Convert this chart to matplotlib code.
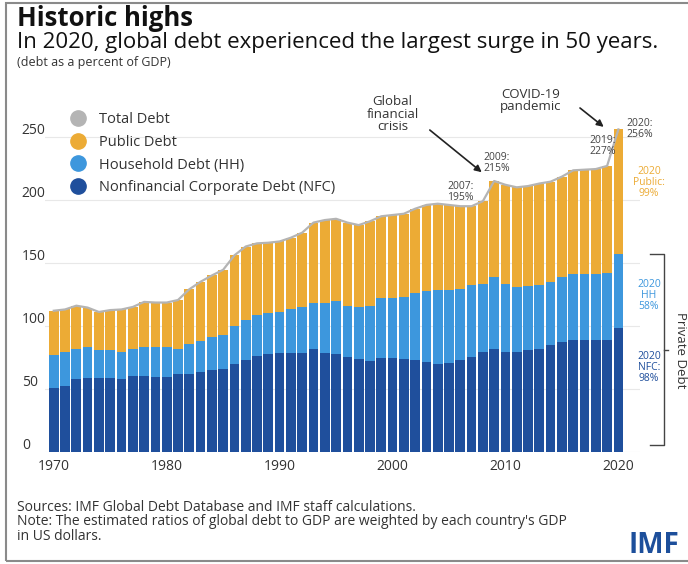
import numpy as np
import matplotlib.pyplot as plt
import matplotlib.transforms as mtransforms
from matplotlib.lines import Line2D
from matplotlib.patches import Rectangle

# === Global debt by component, percent of GDP ===
years = list(range(1970, 2021))
nfc = [50.5, 52, 58, 58.5, 58.5, 58.5, 58, 60, 60, 59.5,
       59.5, 61.5, 62, 63.5, 65, 66, 69.5, 72.5, 76, 77.5,
       78.5, 78.5, 78.5, 81.5, 78.5, 77.5, 75, 73.5, 72, 74.5,
       74.5, 73.5, 72.5, 71, 70, 70.5, 73, 75, 79, 81.5,
       79, 79, 80.5, 82, 84.5, 87.5, 89, 88.5, 88.5, 88.5,
       98.4]
household = [26, 27, 23.5, 24.5, 22, 22, 21.5, 21.5, 23.5, 23.5,
             23.5, 20, 23.5, 24.5, 26, 27, 30.5, 32, 32.5, 33,
             32.5, 34.5, 36.5, 37, 40, 42, 41, 41.5, 44, 47.5,
             47.5, 49.5, 53.5, 57, 58.5, 58, 56.5, 57.5, 54, 57,
             54.5, 52, 51, 50.5, 50.5, 51, 52, 53, 53, 53.5,
             58.3]
public = [35.5, 34, 34.5, 31.5, 30.5, 32, 33.5, 33.5, 35.5, 35.5,
          35.5, 39, 43.5, 47, 49, 51.5, 56, 58.5, 57, 55.5,
          56, 57, 59, 63.5, 65.5, 65.5, 66, 65, 67, 65,
          66, 66, 67, 68, 68.5, 67.5, 65.5, 62.5, 66, 76.5,
          78.5, 79, 79.5, 80.5, 79.5, 80, 82.5, 82.5, 83, 85,
          99.3]

callout_years = [2007, 2009, 2019]
tick_years = [1970, 1980, 1990, 2000, 2010, 2020]

c_nfc = "#1f4f9c"
c_hh = "#3d97dd"
c_pub = "#ecab35"
c_total = "#b4b4b4"
c_text = "#333333"

plt.rcParams["font.family"] = ["Open Sans", "DejaVu Sans"]

x = np.array(years)
nfc = np.array(nfc)
household = np.array(household)
public = np.array(public)
total = nfc + household + public

fig = plt.figure(figsize=(6.88, 5.64), dpi=100)
ax = fig.add_axes([0.065, 0.199, 0.865, 0.614])

ax.bar(x, nfc, width=0.86, color=c_nfc, zorder=2)
ax.bar(x, household, bottom=nfc, width=0.86, color=c_hh, zorder=2)
ax.bar(x, public, bottom=nfc + household, width=0.86, color=c_pub, zorder=2)
ax.plot(x, total, color=c_total, lw=1.6, zorder=3)

ax.set_xlim(1969.2, 2021.9)
ax.set_ylim(0, 275)
ax.set_yticks([0, 50, 100, 150, 200, 250])
ax.set_xticks(tick_years)
ax.grid(axis="y", color="#e8e8e8", lw=0.8, zorder=0)
for s in ax.spines.values():
    s.set_visible(False)
ax.tick_params(axis="both", length=0, labelsize=10, labelcolor=c_text)
ax.tick_params(axis="y", pad=16.5)
ax.tick_params(axis="x", pad=5)
lift = mtransforms.ScaledTranslation(0, 6 / 72, fig.dpi_scale_trans)
for lbl in ax.get_yticklabels():
    lbl.set_horizontalalignment("left")
    lbl.set_transform(lbl.get_transform() + lift)

# legend
handles = [Line2D([], [], ls="none", marker="o", ms=11, color=c)
           for c in (c_total, c_pub, c_hh, c_nfc)]
labels = ["Total Debt", "Public Debt", "Household Debt (HH)",
          "Nonfinancial Corporate Debt (NFC)"]
ax.legend(handles, labels, loc="upper left", bbox_to_anchor=(0.073, 0.824),
          bbox_transform=fig.transFigure, frameon=False, fontsize=10.5,
          labelspacing=0.52, handletextpad=0.45, labelcolor=c_text)

# callouts for selected years
shift = {2007: (-1.0, 11), 2009: (0.2, 14), 2019: (-0.4, 16)}
for yr in callout_years:
    i = years.index(yr)
    dx, dy = shift[yr]
    ax.text(yr + dx, total[i] + dy, f"{yr}:\n{total[i]:.0f}%", ha="center",
            va="center", fontsize=7.5, color="#444444", linespacing=1.0)

ax.text(2021.9, total[-1], f"2020:\n{total[-1]:.0f}%", ha="center", va="center",
        fontsize=7.5, color="#444444", linespacing=1.0, clip_on=False)
ax.text(2022.7, 214, f"2020\nPublic:\n{public[-1]:.0f}%", ha="center", va="center",
        fontsize=7.5, color=c_pub, linespacing=1.0, clip_on=False)
ax.text(2022.7, 124, f"2020\nHH\n{household[-1]:.0f}%", ha="center", va="center",
        fontsize=7.5, color=c_hh, linespacing=1.0, clip_on=False)
ax.text(2022.7, 67, f"2020\nNFC:\n{nfc[-1]:.0f}%", ha="center", va="center",
        fontsize=7.5, color=c_nfc, linespacing=1.0, clip_on=False)

arrow = dict(arrowstyle="-|>", color="#222222", lw=1.2, shrinkA=0, shrinkB=0,
             mutation_scale=10)
ax.text(2000.0, 268, "Global\nfinancial\ncrisis", ha="center", va="center",
        fontsize=9.5, color=c_text, linespacing=0.95)
ax.annotate("", xy=(2007.9, 222), xytext=(2003.3, 255.5), arrowprops=arrow)
ax.text(2012.2, 279, "COVID-19\npandemic", ha="center", va="center",
        fontsize=9.5, color=c_text, linespacing=0.95, clip_on=False)
ax.annotate("", xy=(2018.7, 258), xytext=(2016.6, 273), arrowprops=arrow,
            annotation_clip=False)

# private debt bracket
top = nfc[-1] + household[-1]
bx0, bx1 = 2022.8, 2024.0
ax.plot([bx0, bx1, bx1, bx0], [top, top, 5, 5], color="#444444", lw=1,
        clip_on=False)
ax.plot([bx1, bx1 + 0.35], [top / 2 + 2.5] * 2, color="#444444", lw=1,
        clip_on=False)
ax.text(2025.5, top / 2 + 2.5, "Private Debt", rotation=-90, ha="center",
        va="center", fontsize=9.5, color=c_text, clip_on=False)

# titles and notes
fig.text(0.025, 0.968, "Historic highs", fontsize=18.5, fontweight="bold",
         color="#111111", va="center")
fig.text(0.025, 0.925, "In 2020, global debt experienced the largest surge in 50 years.",
         fontsize=16, color="#111111", va="center")
fig.text(0.025, 0.889, "(debt as a percent of GDP)", fontsize=9, color=c_text,
         va="center")
fig.text(0.025, 0.0745,
         "Sources: IMF Global Debt Database and IMF staff calculations.\n"
         "Note: The estimated ratios of global debt to GDP are weighted by each "
         "country's GDP\nin US dollars.",
         fontsize=10, color=c_text, va="center", linespacing=0.92)
fig.text(0.988, 0.032, "IMF", fontsize=20, fontweight="bold", color="#1d4f9b",
         ha="right", va="center")

fig.patches.append(Rectangle((0.008, 0.006), 0.995, 0.988, transform=fig.transFigure,
                             fill=False, ec="#8a8a8a", lw=1.5))

fig.savefig("out.png", dpi=100)
